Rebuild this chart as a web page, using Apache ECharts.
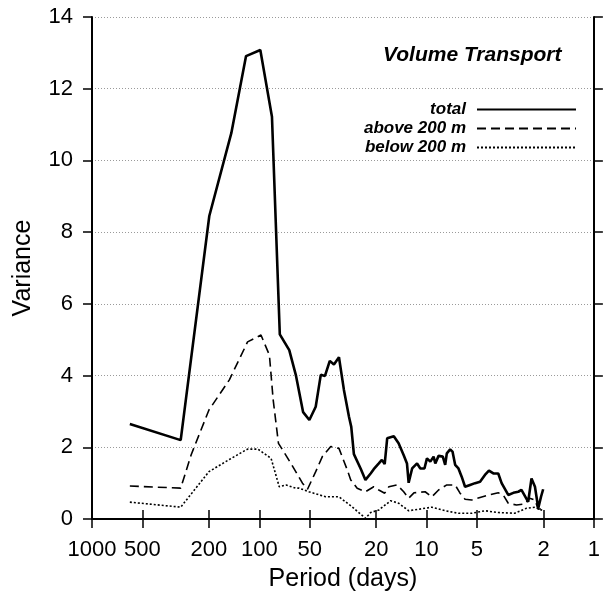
<!DOCTYPE html>
<html>
<head>
<meta charset="utf-8">
<script src="https://cdn.jsdelivr.net/npm/echarts@6/dist/echarts.min.js"></script>
<style>html,body{margin:0;padding:0;background:#fff}#c{width:603px;height:601px}</style>
</head>
<body>
<div id="c"></div>
<script>
var xTicks = [1000, 500, 200, 100, 50, 20, 10, 5, 2, 1];
var yTicks = [0, 2, 4, 6, 8, 10, 12, 14];

var totalPeriod = [594, 295, 199, 147, 120, 98.6, 84, 75.4, 66.2, 60.5, 54.7, 50.2, 46, 42.9, 40.5, 37.9, 35.8, 33.4, 31.2, 29.1, 28.2, 27.2, 24.8, 23.2, 21.6, 20.7, 19.3, 18.5, 17.8, 17.2, 15.7, 14.7, 13.7, 13.1, 12.8, 12.2, 11.4, 10.9, 10.3, 9.95, 9.5, 9.08, 8.87, 8.48, 8.0, 7.74, 7.57, 7.23, 7.0, 6.75, 6.45, 6.17, 5.89, 5.5, 5.13, 4.79, 4.48, 4.24, 3.99, 3.73, 3.56, 3.25, 3.03, 2.83, 2.71, 2.47, 2.36, 2.25, 2.15, 2.07, 2.01];
var totalValue = [2.65, 2.20, 8.45, 10.76, 12.91, 13.08, 11.22, 5.15, 4.71, 4.02, 2.98, 2.76, 3.13, 4.02, 3.99, 4.41, 4.31, 4.51, 3.6, 2.85, 2.57, 1.81, 1.41, 1.09, 1.27, 1.39, 1.55, 1.65, 1.53, 2.25, 2.31, 2.11, 1.78, 1.55, 1.01, 1.41, 1.55, 1.41, 1.41, 1.69, 1.60, 1.74, 1.55, 1.76, 1.74, 1.51, 1.83, 1.94, 1.88, 1.51, 1.41, 1.18, 0.90, 0.95, 1.0, 1.04, 1.23, 1.35, 1.27, 1.27, 1.0, 0.67, 0.73, 0.76, 0.81, 0.48, 1.13, 0.90, 0.30, 0.62, 0.83];

var abovePeriod = [594, 295, 255, 200, 151, 117.5, 97.7, 87, 82.6, 76.8, 64.7, 55.2, 51.5, 46, 42, 37.4, 33.4, 29.8, 28.4, 26, 23.2, 20.7, 19.3, 17.8, 16.8, 15, 13.7, 12.8, 11.9, 10.2, 9.3, 8.48, 7.57, 6.75, 6.31, 5.89, 5.37, 4.79, 4.27, 3.73, 3.48, 3.25, 2.90, 2.59, 2.42, 2.25, 2.15, 2.01];
var aboveValue = [0.92, 0.86, 1.80, 3.04, 3.88, 4.94, 5.13, 4.57, 3.32, 2.11, 1.55, 1.0, 0.83, 1.32, 1.74, 2.02, 1.97, 1.37, 1.09, 0.86, 0.76, 0.90, 0.81, 0.72, 0.90, 0.95, 0.76, 0.58, 0.73, 0.76, 0.62, 0.81, 0.95, 0.95, 0.72, 0.55, 0.53, 0.60, 0.67, 0.73, 0.67, 0.44, 0.39, 0.42, 0.58, 0.53, 0.27, 0.30];

var belowPeriod = [594, 295, 200, 151, 117.5, 102, 85, 76, 69.3, 60.5, 57.8, 50.6, 40.1, 36.6, 33.4, 27.9, 23.2, 21.6, 19.3, 16.4, 14.7, 12.8, 11.2, 9.3, 7.74, 6.45, 5.37, 4.48, 3.73, 2.97, 2.53, 2.25, 2.01];
var belowValue = [0.47, 0.33, 1.32, 1.66, 1.95, 1.95, 1.69, 0.90, 0.95, 0.86, 0.86, 0.76, 0.62, 0.62, 0.62, 0.34, 0.02, 0.18, 0.25, 0.51, 0.44, 0.23, 0.27, 0.33, 0.23, 0.16, 0.16, 0.23, 0.18, 0.16, 0.30, 0.33, 0.23];

function zip(a, b) { return a.map(function (v, i) { return [v, b[i]]; }); }

var FONT = '"Liberation Sans", Arial, Helvetica, sans-serif';
var chart = echarts.init(document.getElementById('c'), null, { renderer: 'canvas' });

var axisLine = { show: true, lineStyle: { color: '#000', width: 2 } };
var axisTick = { show: true, inside: false, length: 9, lineStyle: { color: '#000', width: 1.5 } };

function legendFor(name, top) {
  return {
    data: [name], right: 26, top: top, align: 'right', orient: 'vertical', padding: 0,
    itemWidth: 99, itemHeight: 12, selectedMode: false,
    itemStyle: { color: 'transparent', borderWidth: 0, opacity: 0 },
    textStyle: { fontFamily: FONT, fontSize: 17, fontWeight: 'bold', fontStyle: 'italic', color: '#000', padding: [0, 6, 0, 0] }
  };
}

chart.setOption({
  animation: false,
  backgroundColor: '#fff',
  title: {
    text: 'Volume Transport', left: 378, top: 40,
    textStyle: { fontFamily: FONT, fontSize: 21, fontWeight: 'bold', fontStyle: 'italic', color: '#000' }
  },
  legend: [legendFor('total', 101), legendFor('above 200 m', 120), legendFor('below 200 m', 139)],
  grid: { left: 92, right: 7, top: 17, bottom: 82, containLabel: false },
  xAxis: [{
    type: 'log', logBase: 10, min: 1, max: 1000, inverse: true, position: 'bottom',
    name: 'Period (days)', nameLocation: 'middle', nameGap: 48,
    nameTextStyle: { fontFamily: FONT, fontSize: 25, color: '#000' },
    axisLine: axisLine,
    axisTick: Object.assign({ customValues: xTicks }, axisTick),
    axisLabel: { customValues: xTicks, fontFamily: FONT, fontSize: 22, color: '#000', margin: 20,
      formatter: function (v) { return String(v); } },
    splitLine: { show: false }, minorTick: { show: false }
  }, {
    type: 'log', logBase: 10, min: 1, max: 1000, inverse: true, position: 'top',
    axisLine: axisLine,
    axisTick: Object.assign({ customValues: xTicks }, axisTick),
    axisLabel: { show: false },
    splitLine: { show: false }
  }],
  yAxis: [{
    type: 'value', min: 0, max: 14, interval: 2, position: 'left',
    name: 'Variance', nameLocation: 'middle', nameGap: 56,
    nameTextStyle: { fontFamily: FONT, fontSize: 25, color: '#000' },
    axisLine: axisLine, axisTick: axisTick,
    axisLabel: { fontFamily: FONT, fontSize: 22, color: '#000', margin: 19 },
    splitLine: { show: true, lineStyle: { color: '#9a9a9a', width: 1, type: [1, 2] } }
  }, {
    type: 'value', min: 0, max: 14, interval: 2, position: 'right',
    axisLine: axisLine, axisTick: axisTick,
    axisLabel: { show: false }, splitLine: { show: false }
  }],
  series: [{
    name: 'total', type: 'line', symbol: 'none', data: zip(totalPeriod, totalValue),
    lineStyle: { color: '#000', width: 2.6, type: 'solid' }, itemStyle: { color: '#000' }
  }, {
    name: 'above 200 m', type: 'line', symbol: 'none', data: zip(abovePeriod, aboveValue),
    lineStyle: { color: '#000', width: 1.6, type: [9, 5] }, itemStyle: { color: '#000' }
  }, {
    name: 'below 200 m', type: 'line', symbol: 'none', data: zip(belowPeriod, belowValue),
    lineStyle: { color: '#000', width: 1.6, type: [2, 2] }, itemStyle: { color: '#000' }
  }]
});
</script>
</body>
</html>
